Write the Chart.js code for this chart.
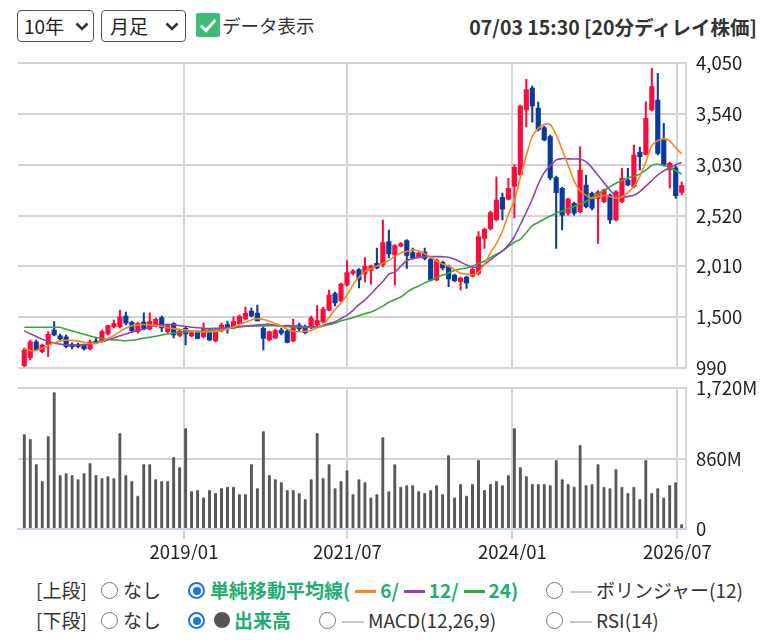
<!DOCTYPE html>
<html lang="ja">
<head>
<meta charset="utf-8">
<script src="https://cdn.jsdelivr.net/npm/chart.js@4.4.1/dist/chart.umd.min.js"></script>
<style>
body{margin:0;background:#fff;font-family:"Noto Sans CJK JP","Noto Sans",sans-serif;color:#333;}
#wrap{position:relative;width:776px;height:641px;overflow:hidden;}
.abs{position:absolute;white-space:nowrap;}
.sel{position:absolute;top:10px;height:30px;border:1px solid #555;border-radius:4px;font-size:19px;line-height:30px;color:#222;}
.sel svg{position:absolute;top:11px;}
.lg{position:absolute;font-size:19px;line-height:22px;color:#333;white-space:nowrap;}
.radio{position:absolute;width:17px;height:17px;border:1.5px solid #777;border-radius:50%;box-sizing:border-box;}
.radio.on{border:2px solid #1a73e8;}
.radio.on::after{content:"";position:absolute;left:2.5px;top:2.5px;width:8px;height:8px;border-radius:50%;background:#1a73e8;}
.dash{display:inline-block;width:21px;height:3px;vertical-align:middle;margin:0 4px 3px 5px;}
.gdash{position:absolute;width:22px;height:2px;background:#c8c8c8;}
.green{color:#1fae72;font-weight:bold;}
</style>
</head>
<body>
<div id="wrap">
  <div class="sel" style="left:17px;width:75px;"><span style="padding-left:6px;">10年</span>
    <svg style="left:57px" width="14" height="9"><polyline points="1.5,1.5 7,7 12.5,1.5" fill="none" stroke="#333" stroke-width="2.6"/></svg></div>
  <div class="sel" style="left:101px;width:83px;"><span style="padding-left:8px;">月足</span>
    <svg style="left:63px" width="14" height="9"><polyline points="1.5,1.5 7,7 12.5,1.5" fill="none" stroke="#333" stroke-width="2.6"/></svg></div>
  <div class="abs" style="left:196px;top:13px;width:24px;height:24px;background:#3dbb78;border-radius:2px;">
    <svg width="24" height="24"><polyline points="5,12.5 10,17.5 19.5,7" fill="none" stroke="#fff" stroke-width="3"/></svg></div>
  <div class="abs" style="left:222px;top:13px;font-size:18.5px;line-height:24px;color:#333;">データ表示</div>
  <div class="abs" style="right:19px;top:14px;font-size:19.5px;line-height:26px;font-weight:bold;color:#333;">07/03 15:30 [20分ディレイ株価]</div>

  <canvas id="price" class="abs" style="left:0;top:50px;" width="776" height="330"></canvas>
  <canvas id="vol" class="abs" style="left:0;top:380px;" width="776" height="180"></canvas>

  <div class="lg" style="left:36px;top:579px;">[上段]</div>
  <div class="radio" style="left:101px;top:582px;"></div>
  <div class="lg" style="left:123px;top:579px;">なし</div>
  <div class="radio on" style="left:188px;top:582px;"></div>
  <div class="lg green" style="left:210px;top:579px;">単純移動平均線(<span class="dash" style="background:#f7861c"></span>6/<span class="dash" style="background:#8e44ad"></span>12/<span class="dash" style="background:#36a836"></span>24)</div>
  <div class="radio" style="left:546px;top:582px;"></div>
  <div class="gdash" style="left:570px;top:591px;"></div>
  <div class="lg" style="left:596px;top:579px;">ボリンジャー(12)</div>

  <div class="lg" style="left:36px;top:609px;">[下段]</div>
  <div class="radio" style="left:101px;top:612px;"></div>
  <div class="lg" style="left:123px;top:609px;">なし</div>
  <div class="radio on" style="left:188px;top:612px;"></div>
  <div class="abs" style="left:214px;top:612px;width:16px;height:16px;border-radius:50%;background:#555;"></div>
  <div class="lg green" style="left:234px;top:609px;">出来高</div>
  <div class="radio" style="left:319px;top:612px;"></div>
  <div class="gdash" style="left:342px;top:621px;"></div>
  <div class="lg" style="left:368px;top:609px;">MACD(12,26,9)</div>
  <div class="radio" style="left:546px;top:612px;"></div>
  <div class="gdash" style="left:570px;top:621px;"></div>
  <div class="lg" style="left:596px;top:609px;">RSI(14)</div>
</div>

<script>
// monthly candles, oldest first (open / high / low / close, yen)
var opens = [1013,1093,1254,1154,1228,1372,1314,1304,1228,1228,1221,1181,1261,1261,1331,1405,1405,1512,1449,1355,
  1452,1379,1412,1497,1355,1437,1316,1389,1311,1351,1304,1372,1261,1362,1427,1389,1435,1482,1562,1542,
  1389,1271,1291,1372,1362,1261,1422,1405,1395,1422,1455,1572,1738,1663,1824,1939,1979,1934,1971,2041,
  2024,2260,2125,2213,2270,2148,2102,2155,2082,1874,2050,2011,1924,1857,1904,1911,1939,2292,2388,2479,
  2704,2685,2813,2931,3581,3802,3601,3405,3315,2903,2795,2544,2644,2560,2828,2744,2694,2660,2727,2476,
  2660,2878,2811,3156,3136,3581,3681,3280,2978,3001,2754];
var highs = [1191,1271,1271,1231,1355,1455,1331,1321,1244,1241,1231,1271,1288,1372,1422,1472,1572,1552,1462,1452,
  1545,1545,1492,1512,1432,1445,1372,1402,1357,1362,1442,1382,1362,1442,1462,1505,1522,1603,1593,1623,
  1412,1362,1382,1392,1372,1482,1442,1422,1512,1618,1603,1773,1753,1844,2070,1979,1989,2098,2024,2195,
  2476,2376,2230,2250,2280,2195,2155,2195,2095,2085,2065,2024,1934,1904,1914,1994,2359,2396,2567,2911,
  2747,2895,3034,3631,3890,3822,3661,3420,3330,2918,2808,2697,2657,3212,2928,2757,2772,2787,2737,2772,
  2995,2995,3229,3209,3664,3999,3949,3447,3059,3019,2858];
var lows = [1000,1070,1161,1141,1103,1311,1271,1191,1181,1191,1171,1171,1231,1251,1321,1392,1392,1422,1351,1341,
  1372,1372,1402,1355,1341,1291,1301,1221,1301,1281,1291,1261,1251,1352,1341,1382,1422,1472,1502,1462,
  1171,1261,1281,1321,1241,1251,1362,1331,1382,1412,1442,1562,1613,1653,1813,1924,1793,1854,1833,1984,
  2004,2095,1823,2205,1989,2085,2095,2075,1864,1864,1974,1806,1854,1773,1790,1904,1924,2192,2376,2466,
  2476,2677,2496,2918,3410,3460,3370,3270,2878,2192,2376,2526,2526,2547,2597,2577,2242,2647,2443,2466,
  2647,2818,2798,2978,3129,3571,3129,3019,2795,2694,2727];
var closes = [1171,1254,1171,1221,1328,1321,1281,1204,1204,1204,1181,1254,1244,1355,1415,1439,1505,1439,1365,1439,
  1379,1455,1479,1392,1417,1321,1362,1331,1344,1288,1389,1271,1352,1422,1382,1455,1509,1539,1512,1462,
  1288,1352,1367,1341,1246,1407,1382,1344,1492,1467,1582,1723,1643,1834,1949,1967,1874,2011,2014,1994,
  2250,2135,2220,2240,2120,2092,2145,2090,1871,2075,1994,1884,1867,1894,1844,1981,2311,2383,2550,2677,
  2584,2795,3005,3621,3785,3621,3385,3280,2898,2750,2526,2687,2544,2978,2610,2594,2760,2777,2476,2760,
  2895,2828,3129,3112,3497,3815,3146,3029,3046,2720,2821];
// volume, millions of shares
var volumes = [1158,1100,791,587,1137,1671,660,681,660,607,681,807,660,624,644,624,1174,660,587,404,
  791,791,607,587,587,880,754,1231,461,477,383,477,440,497,514,514,424,424,791,497,
  1194,660,607,571,477,477,440,367,607,1174,624,791,497,587,717,424,607,571,383,424,
  1121,461,791,514,534,534,461,440,477,534,424,901,383,550,404,550,844,477,550,587,
  534,660,1231,754,644,550,550,550,534,844,607,550,514,1027,534,550,791,514,497,734,
  514,440,514,367,844,440,497,383,534,571,57];
// simple moving averages as drawn (6 / 12 / 24 months)
var ma6 = [1188,1164,1169,1189,1214,1242,1260,1268,1267,1260,1249,1235,1238,1257,1285,1317,1355,1389,1414,1422,
  1427,1423,1419,1409,1395,1385,1379,1373,1363,1352,1352,1355,1357,1367,1381,1401,1426,1449,1473,1486,
  1477,1460,1434,1414,1382,1359,1354,1358,1363,1397,1420,1500,1577,1643,1720,1825,1901,1960,1989,2013,
  2043,2070,2114,2146,2160,2175,2168,2138,2103,2065,2035,2012,1978,1942,1933,1926,1953,2034,2149,2239,
  2363,2532,2672,2900,3123,3315,3397,3439,3434,3332,3183,3026,2868,2770,2724,2695,2713,2723,2712,2695,
  2707,2753,2814,2914,3058,3224,3274,3294,3272,3201,3139];
var ma12 = [1362,1334,1307,1280,1256,1240,1230,1221,1221,1221,1223,1231,1241,1254,1272,1292,1314,1332,1352,1366,
  1381,1402,1418,1424,1427,1424,1416,1407,1400,1394,1389,1387,1389,1391,1396,1401,1406,1411,1416,1421,
  1427,1430,1420,1413,1417,1415,1410,1407,1405,1405,1416,1437,1454,1487,1521,1569,1627,1674,1733,1797,
  1858,1932,1953,2013,2067,2088,2101,2108,2108,2108,2108,2102,2082,2055,2025,2005,2000,2031,2075,2121,
  2165,2225,2308,2431,2554,2685,2836,2952,3021,3080,3093,3090,3089,3089,3059,3000,2925,2851,2776,2715,
  2704,2712,2725,2762,2817,2872,2929,2970,3002,3032,3054];
var ma24 = [1399,1399,1399,1399,1399,1399,1399,1379,1362,1345,1328,1311,1297,1287,1278,1272,1268,1264,1268,1277,
  1290,1299,1308,1321,1333,1341,1347,1352,1357,1359,1362,1367,1373,1378,1385,1395,1403,1410,1412,1412,
  1412,1414,1414,1411,1406,1403,1401,1398,1396,1396,1410,1426,1441,1464,1480,1494,1516,1535,1552,1579,
  1612,1650,1677,1703,1749,1788,1814,1845,1872,1899,1923,1945,1969,1984,1995,2013,2039,2064,2098,2133,
  2165,2210,2253,2282,2349,2420,2451,2487,2517,2545,2566,2588,2613,2639,2664,2701,2736,2772,2811,2846,
  2874,2898,2917,2937,2978,3025,3036,3023,3004,2971,2938];

var priceTicks = [990, 1500, 2010, 2520, 3030, 3540, 4050];
var volTicks = [0, 860, 1720];
var dateLabels = ['2019/01', '2021/07', '2024/01', '2026/07'];
var datePos = [26.72, 54.05, 81.66, 109.27];

var FONT = '"Noto Sans CJK JP", "Noto Sans", sans-serif';
var UP = '#ff0a3c', DOWN = '#0a3a9c', GRID = '#d4d4d4';
Chart.defaults.font.family = FONT;
Chart.defaults.animation = false;

function candleColor(c) {
  var i = c.dataIndex;
  return closes[i] >= opens[i] ? UP : DOWN;
}

function xAxis(withLabels) {
  return {
    type: 'linear', min: -1.05, max: 110.72, offset: false,
    grid: { color: GRID, lineWidth: 2, drawTicks: withLabels, tickLength: 10, tickColor: GRID, offset: false },
    border: { display: withLabels, color: '#c6d0ea', width: 2 },
    afterBuildTicks: function (s) { s.ticks = datePos.map(function (v) { return { value: v }; }); },
    ticks: {
      display: withLabels, autoSkip: false, maxRotation: 0, padding: 2, color: '#222',
      font: { size: 18.5 },
      callback: function (v, i) { return dateLabels[i]; }
    },
    afterFit: function (s) { s.height = withLabels ? 31 : 0; s.paddingLeft = 0; s.paddingRight = 0; }
  };
}

function yAxis(min, max, ticks, fmt) {
  return {
    position: 'right', min: min, max: max,
    afterBuildTicks: function (s) { s.ticks = ticks.map(function (v) { return { value: v }; }); },
    grid: { color: function (c) { return min === 0 && c.tick && c.tick.value === 0 ? 'rgba(0,0,0,0)' : GRID; },
      lineWidth: 2, drawTicks: false },
    border: { display: true, color: GRID, width: 2 },
    ticks: { padding: 10, color: '#222', font: { size: 18.5 }, callback: fmt },
    afterFit: function (s) { s.width = 90; s.paddingTop = 0; s.paddingBottom = 0; }
  };
}

var idx = opens.map(function (v, i) { return i; });

new Chart(document.getElementById('price'), {
  data: {
    datasets: [
      { type: 'line', label: '6', data: idx.map(function (i) { return { x: i, y: ma6[i] }; }),
        borderColor: '#f7861c', borderWidth: 1.6, pointRadius: 0, tension: 0.25, order: 0 },
      { type: 'line', label: '12', data: idx.map(function (i) { return { x: i, y: ma12[i] }; }),
        borderColor: '#8e44ad', borderWidth: 1.6, pointRadius: 0, tension: 0.25, order: 0 },
      { type: 'line', label: '24', data: idx.map(function (i) { return { x: i, y: ma24[i] }; }),
        borderColor: '#36a836', borderWidth: 1.6, pointRadius: 0, tension: 0.25, order: 0 },
      { type: 'bar', label: 'wick', data: idx.map(function (i) { return { x: i, y: [lows[i], highs[i]] }; }),
        backgroundColor: candleColor, barThickness: 1.4, grouped: false, order: 2 },
      { type: 'bar', label: 'body', data: idx.map(function (i) { return { x: i, y: [opens[i], closes[i]] }; }),
        backgroundColor: candleColor, barThickness: 4.5, minBarLength: 1.5, grouped: false, order: 1 }
    ]
  },
  options: {
    responsive: false,
    layout: { padding: { left: 18, top: 13.3, bottom: 12, right: 0 } },
    plugins: { legend: { display: false }, tooltip: { enabled: false } },
    scales: {
      x: xAxis(false),
      y: yAxis(990, 4050, priceTicks, function (v) { return v.toLocaleString('en-US'); })
    }
  }
});

new Chart(document.getElementById('vol'), {
  data: {
    datasets: [
      { type: 'bar', label: '出来高', data: idx.map(function (i) { return { x: i, y: volumes[i] }; }),
        backgroundColor: '#585858', borderColor: '#8a8a8a', borderWidth: { top: 1 }, barThickness: 3, grouped: false }
    ]
  },
  options: {
    responsive: false,
    layout: { padding: { left: 18, top: 8.3, bottom: 0, right: 0 } },
    plugins: { legend: { display: false }, tooltip: { enabled: false } },
    scales: {
      x: xAxis(true),
      y: yAxis(0, 1720, volTicks, function (v) { return v === 0 ? '0' : v.toLocaleString('en-US') + 'M'; })
    }
  }
});
</script>
</body>
</html>
